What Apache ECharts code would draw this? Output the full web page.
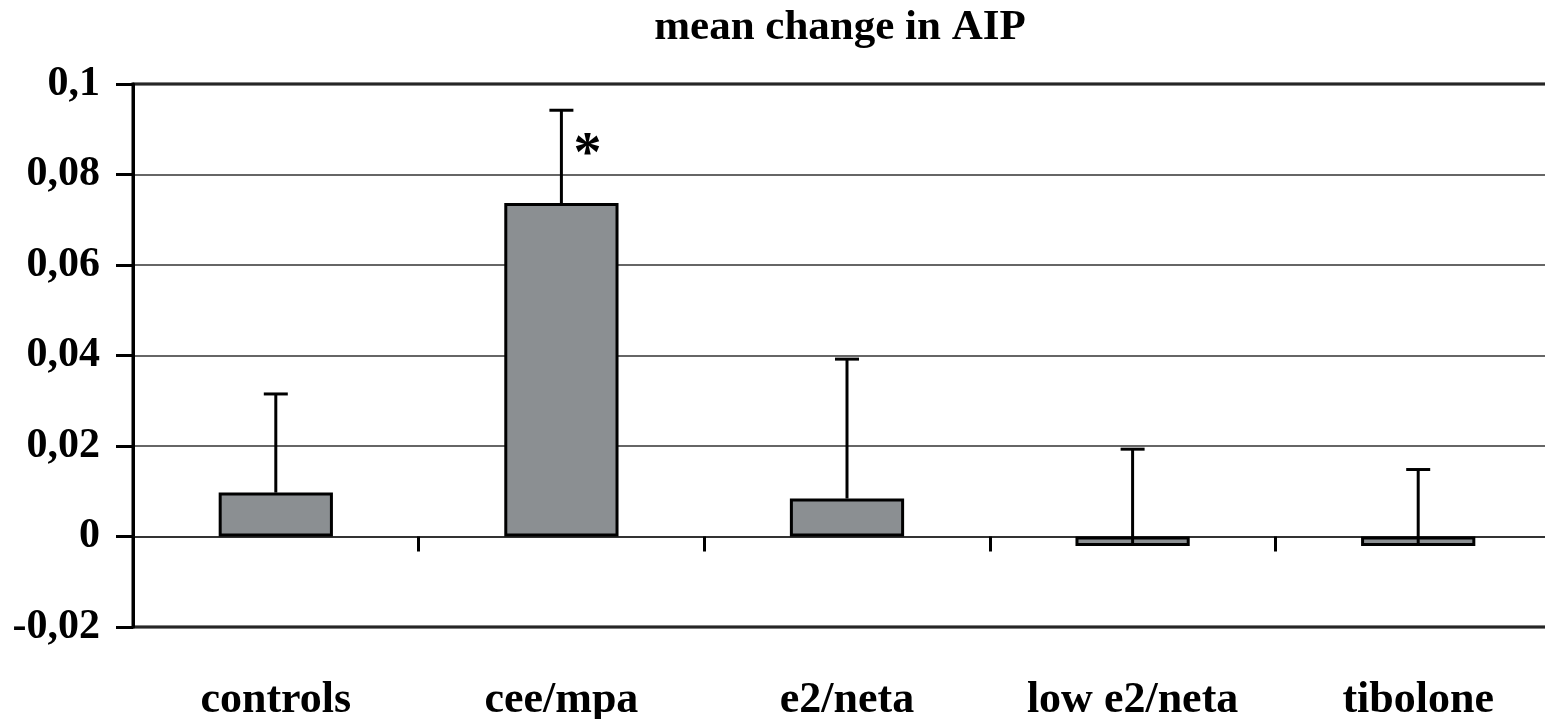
<!DOCTYPE html>
<html>
<head>
<meta charset="utf-8">
<script src="https://cdn.jsdelivr.net/npm/echarts@6/dist/echarts.min.js"></script>
<style>
  html, body { margin: 0; padding: 0; background: #fff; overflow: hidden; }
  #chart { width: 1545px; height: 719px; }
</style>
</head>
<body>
<div id="chart"></div>
<script>
// Mean change in AIP per treatment group, with upper SD whiskers
const categories = ['controls', 'cee/mpa', 'e2/neta', 'low e2/neta', 'tibolone'];
const means = [0.0097, 0.0737, 0.0084, -0.0021, -0.0021];
const sdUpper = [0.0218, 0.0205, 0.0308, 0.0214, 0.0169];
const significance = ['', '*', '', '', ''];
const yTickLabels = ['-0,02', '0', '0,02', '0,04', '0,06', '0,08', '0,1'];

const FONT = '"Liberation Serif", "Times New Roman", serif';

const chart = echarts.init(document.getElementById('chart'));

const errorData = categories.map((c, i) => [i, means[i], means[i] + sdUpper[i], significance[i]]);

chart.setOption({
  animation: false,
  title: {
    text: 'mean change in AIP',
    left: 835,
    top: 1,
    textAlign: 'center',
    textStyle: { fontFamily: FONT, fontWeight: 'bold', fontSize: 43, color: '#000' }
  },
  grid: {
    left: 133, top: 84, width: 1428, height: 543,
    outerBoundsMode: 'none',
    containLabel: false,
    show: true, borderColor: '#000', borderWidth: 3, backgroundColor: 'transparent'
  },
  xAxis: [
    {
      type: 'category',
      data: categories,
      position: 'bottom',
      axisLine: { show: false, onZero: false },
      axisTick: { show: false },
      axisLabel: {
        fontFamily: FONT, fontWeight: 'bold', fontSize: 44, color: '#000', margin: 52
      }
    },
    {
      type: 'category',
      data: categories,
      position: 'bottom',
      axisLine: { show: true, onZero: true, lineStyle: { color: '#222', width: 1.5 } },
      axisTick: { show: true, inside: false, length: 15, lineStyle: { color: '#000', width: 3 } },
      axisLabel: { show: false }
    }
  ],
  yAxis: {
    type: 'value',
    min: -0.02,
    max: 0.1,
    interval: 0.02,
    axisLine: { show: true, lineStyle: { color: '#000', width: 3 } },
    axisTick: { show: true, length: 17, lineStyle: { color: '#000', width: 3 } },
    splitLine: { show: true, lineStyle: { color: '#333', width: 1.5 } },
    axisLabel: {
      fontFamily: FONT, fontWeight: 'bold', fontSize: 42, color: '#000', margin: 33,
      padding: [11, 0, 0, 0],
      formatter: (v, idx) => yTickLabels[idx]
    }
  },
  series: [
    {
      type: 'bar',
      xAxisIndex: 0,
      data: means,
      barWidth: '40%',
      itemStyle: { color: '#8b8f92', borderColor: '#000', borderWidth: 3 },
      z: 2
    },
    {
      type: 'custom',
      xAxisIndex: 0,
      data: errorData,
      z: 3,
      renderItem: function (params, api) {
        const x = api.value(0);
        const base = api.coord([x, api.value(1)]);
        const top = api.coord([x, api.value(2)]);
        const cap = 12;
        const children = [
          { type: 'line', shape: { x1: base[0], y1: base[1], x2: top[0], y2: top[1] },
            style: { stroke: '#000', lineWidth: 3 } },
          { type: 'line', shape: { x1: top[0] - cap, y1: top[1], x2: top[0] + cap, y2: top[1] },
            style: { stroke: '#000', lineWidth: 3 } }
        ];
        const mark = api.value(3);
        if (mark) {
          children.push({
            type: 'text',
            style: {
              text: mark, x: top[0] + 26, y: top[1] + 46,
              align: 'center', verticalAlign: 'middle',
              font: 'bold 56px ' + FONT, fill: '#000'
            }
          });
        }
        return { type: 'group', children: children };
      }
    }
  ]
});
</script>
</body>
</html>
